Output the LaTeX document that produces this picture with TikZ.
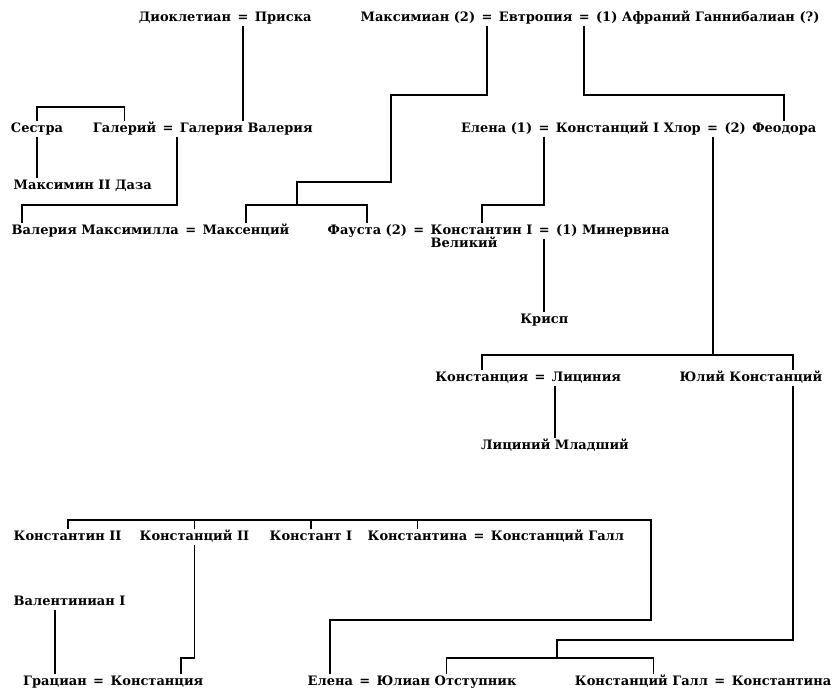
\documentclass[tikz,border=0pt]{standalone}
\usepackage{fontspec}
\setmainfont{DejaVu Serif}
\usetikzlibrary{positioning}

\begin{document}
\begin{tikzpicture}[x=1pt, y=-1pt, node distance=3pt,
    person/.style={font=\fontsize{13}{15}\selectfont\bfseries, inner sep=1.5pt,
                   text height=9.5pt, text depth=2.5pt},
    eq/.style={person},
    link/.style={line width=1.8pt}]
    \useasboundingbox (0,0) rectangle (835,697);

    % Levels of the horizontal bars
    \coordinate (lvA) at (0,107);
    \coordinate (lvB) at (0,95);
    \coordinate (lvD) at (0,205);
    \coordinate (lvE) at (0,355);
    \coordinate (lvF) at (0,520);
    \coordinate (lvG) at (0,620);
    \coordinate (lvI) at (0,658);

    % Diocletian, Maximian
    \node[eq] (e1) at (243,18) {=};
    \node[person, left=of e1] (dio) {Диоклетиан};
    \node[person, right=of e1] (pri) {Приска};
    \node[eq] (e3) at (487,18) {=};
    \node[person, left=of e3] (mxm) {Максимиан (2)};
    \node[person, right=of e3] (evt) {Евтропия};
    \node[eq, right=of evt] (e4) {=};
    \node[person, right=of e4] (afr) {(1)~Афраний Ганнибалиан (?)};

    % Galerius, Constantius Chlorus
    \node[person] (ses) at (37,129) {Сестра};
    \node[eq] (e2) at (168,129) {=};
    \node[person, left=of e2] (gal) {Галерий};
    \node[person, right=of e2] (gv) {Галерия Валерия};
    \node[person, anchor=west] (max2) at (12,186) {Максимин II Даза};
    \node[eq] (e5) at (544,129) {=};
    \node[person, left=of e5] (ele1) {Елена (1)};
    \node[person, right=of e5] (kh) {Констанций I Хлор};
    \node[eq, right=of kh] (e6) {=};
    \node[person, right=of e6] (n2) {(2)};
    \node[person, right=of n2] (feo) {Феодора};

    % Maxentius, Constantine
    \node[person, anchor=west] (vm) at (10,231) {Валерия Максимилла};
    \node[eq, right=of vm] (e7a) {=};
    \node[person, right=of e7a] (mxc) {Максенций};
    \node[person, anchor=west] (fau) at (326,231) {Фауста (2)};
    \node[eq, right=of fau] (e7b) {=};
    \node[person, right=of e7b] (kon) {Константин I};
    \node[person, anchor=north west, yshift=2pt] (vel) at (kon.south west) {Великий};
    \node[eq, right=of kon] (e7) {=};
    \node[person, right=of e7] (min) {(1)~Минервина};
    \node[person] (kri) at (e7 |- 0,320) {Крисп};

    % Licinius, Julius Constantius
    \node[eq] (e8) at (540,378) {=};
    \node[person, left=of e8] (kcia) {Констанция};
    \node[person, right=of e8] (lic) {Лициния};
    \node[person, anchor=west] (yul) at (678,378) {Юлий Констанций};
    \node[person] (lm) at (555,446) {Лициний Младший};

    % Sons and daughters of Constantine
    \node[person, anchor=west] (k2i) at (12,537) {Константин II};
    \node[person, anchor=west] (ks) at (138,537) {Констанций II};
    \node[person, anchor=west] (kst) at (268,537) {Констант I};
    \node[person, anchor=west] (kna) at (366,537) {Константина};
    \node[eq, right=of kna] (e9) {=};
    \node[person, right=of e9] (kg) {Констанций Галл};
    \node[person, anchor=west] (val) at (12,602) {Валентиниан I};

    % Last generation
    \node[person, anchor=east] (kca) at (205,682) {Констанция};
    \node[eq, left=of kca] (e10) {=};
    \node[person, left=of e10] (gra) {Грациан};
    \node[person, anchor=west] (ele) at (306,682) {Елена};
    \node[eq, right=of ele] (e11) {=};
    \node[person, right=of e11] (jul) {Юлиан Отступник};
    \node[person, anchor=east] (kta) at (833,682) {Константина};
    \node[eq, left=of kta] (e12) {=};
    \node[person, left=of e12] (gall) {Констанций Галл};

    % Points where a line leaves a name off its middle
    \coordinate (vmt) at ([xshift=12pt]vm.north west);
    \coordinate (yt) at ([xshift=-31pt]yul.north east);
    \coordinate (yb) at ([xshift=-31pt]yul.south east);
    \coordinate (kcat) at ([xshift=-24pt]kca.north east);
    \coordinate (gallt) at ([xshift=12pt]gall.north);
    \coordinate (j1) at (391,95);
    \coordinate (j2) at (297,182);
    \coordinate (r1) at (651,520);
    \coordinate (j5) at (557,640);

    % Connectors
    \draw[link] (e1.south) -- (e1.south |- gv.north);
    \draw[link] (ses.north) -- (ses.north |- lvA) -| (gal.north);
    \draw[link] (ses.south) -- (ses.south |- max2.north);
    \draw[link] ([xshift=9pt]e2.south) |- (vmt |- lvD) -- (vmt);
    \draw[link] (e3.south) |- (j1) |- (j2) -- (j2 |- lvD);
    \draw[link] (mxc.north) |- (fau.north |- lvD) -- (fau.north);
    \draw[link] (e4.south) |- (feo.north |- lvB) -- (feo.north);
    \draw[link] (e5.south) |- (kon.north |- lvD) -- (kon.north);
    \draw[link] (e7.south) -- (kri.north);
    \draw[link] (e6.south) -- (e6.south |- lvE);
    \draw[link] (kcia.north) |- (yt |- lvE) -- (yt);
    \draw[link] ([xshift=15pt]e8.south) -- (lm.north);
    \draw[link] (k2i.north) |- (r1) |- (ele.north |- lvG) -- (ele.north);
    \foreach \n in {ks,kst,kna}
        \draw[link] (\n.north) -- (\n.north |- lvF);
    \draw[link] (ks.south) |- (kcat |- lvI) -- (kcat);
    \draw[link] (gra.north |- val.south) -- (gra.north);
    \draw[link] (yb) |- (j5) -- (j5 |- lvI);
    \draw[link] (jul.north) |- (gallt |- lvI) -- (gallt);
\end{tikzpicture}
\end{document}
